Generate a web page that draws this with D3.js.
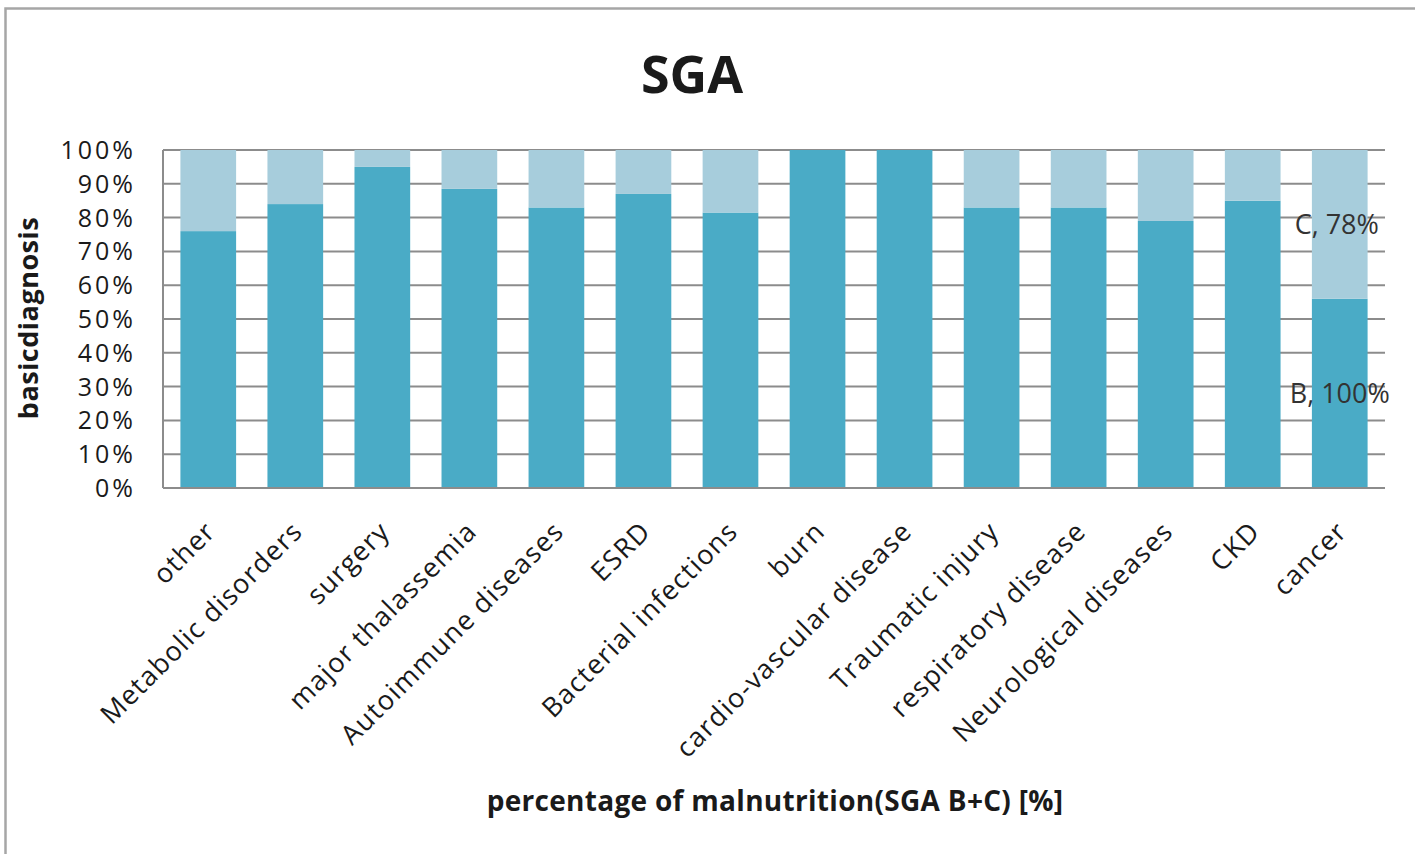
<html>
   <head>
      <title>SGA</title>
      <script src="https://d3js.org/d3.v7.min.js" charset="utf-8"></script>
      <style>
         body {
            margin: 0;
            background: white;
            font-family: "Open Sans", sans-serif;
         }
         text {
            fill: #1a1a1a;
         }
      </style>
   </head>
   <body>
      <script>
         var width = 1415;
         var height = 854;

         // categories and stacked values (percent of patients)
         var categories = ["other", "Metabolic disorders", "surgery", "major thalassemia",
            "Autoimmune diseases", "ESRD", "Bacterial infections", "burn",
            "cardio-vascular disease", "Traumatic injury", "respiratory disease",
            "Neurological diseases", "CKD", "cancer"];
         var bValues = [76, 84, 95, 88.5, 83, 87, 81.5, 100, 100, 83, 83, 79, 85, 56];
         var cValues = [24, 16, 5, 11.5, 17, 13, 18.5, 0, 0, 17, 17, 21, 15, 44];
         var yTicks = [0, 10, 20, 30, 40, 50, 60, 70, 80, 90, 100];

         var darkColor = "#4aabc6";
         var lightColor = "#a7cddc";

         var rows = categories.map(function(c, i) {
            return {cat: c, B: bValues[i], C: cValues[i]};
         });
         var stack = d3.stack().keys(["B", "C"]);
         var series = stack(rows);

         var svg = d3.select("body")
            .append("svg")
            .attr("width", width)
            .attr("height", height);

         // outer chart border
         svg.append("rect")
            .attr("x", 5.5)
            .attr("y", 8.5)
            .attr("width", width + 20)
            .attr("height", height + 20)
            .attr("fill", "white")
            .attr("stroke", "#a6a6a6")
            .attr("stroke-width", 2.5);

         var x = d3.scaleBand()
            .domain(categories)
            .range([163, 1385])
            .paddingInner(0.36)
            .paddingOuter(0.2);

         var y = d3.scaleLinear()
            .domain([0, 100])
            .range([488, 150]);

         // gridlines
         svg.append("g")
            .selectAll("line")
            .data(yTicks)
            .enter()
            .append("line")
            .attr("x1", 163)
            .attr("x2", 1385)
            .attr("y1", function(d){ return y(d); })
            .attr("y2", function(d){ return y(d); })
            .attr("stroke", "#8c8c8c")
            .attr("stroke-width", 2);

         // left axis line
         svg.append("line")
            .attr("x1", 163).attr("x2", 163)
            .attr("y1", y(100)).attr("y2", y(0))
            .attr("stroke", "#8c8c8c")
            .attr("stroke-width", 2);

         // bars
         svg.append("g")
            .selectAll("g")
            .data(series)
            .enter()
            .append("g")
            .attr("fill", function(d){ return d.key == "B" ? darkColor : lightColor; })
            .selectAll("rect")
            .data(function(d){ return d; })
            .enter()
            .append("rect")
            .attr("x", function(d){ return x(d.data.cat); })
            .attr("y", function(d){ return y(d[1]); })
            .attr("width", x.bandwidth())
            .attr("height", function(d){ return y(d[0]) - y(d[1]); });

         // bottom axis line
         svg.append("line")
            .attr("x1", 163).attr("x2", 1385)
            .attr("y1", y(0)).attr("y2", y(0))
            .attr("stroke", "#8c8c8c")
            .attr("stroke-width", 2);

         // y tick labels
         svg.append("g")
            .selectAll("text")
            .data(yTicks)
            .enter()
            .append("text")
            .attr("x", 136)
            .attr("y", function(d){ return y(d); })
            .attr("dy", "0.36em")
            .attr("text-anchor", "end")
            .style("font-size", "25px")
            .style("letter-spacing", "3px")
            .text(function(d){ return d + "%"; });

         // x category labels
         svg.append("g")
            .selectAll("text")
            .data(categories)
            .enter()
            .append("text")
            .attr("transform", function(d){
               return "translate(" + (x(d) + x.bandwidth() / 2 + 9) + "," + (y(0) + 45) + ") rotate(-45)";
            })
            .attr("text-anchor", "end")
            .style("font-size", "27px")
            .style("letter-spacing", "1.2px")
            .text(function(d){ return d; });

         // data labels on the last bar
         var last = categories[categories.length - 1];
         svg.append("text")
            .attr("x", x(last) + x.bandwidth() / 2 - 3)
            .attr("y", y(bValues[13] + cValues[13] / 2))
            .attr("dy", "0.36em")
            .attr("text-anchor", "middle")
            .style("font-size", "27px")
            .style("fill", "#333")
            .text("C, 78%");
         svg.append("text")
            .attr("x", x(last) + x.bandwidth() / 2)
            .attr("y", y(bValues[13] / 2))
            .attr("dy", "0.36em")
            .attr("text-anchor", "middle")
            .style("font-size", "27px")
            .style("fill", "#333")
            .text("B, 100%");

         // title
         svg.append("text")
            .attr("x", 692)
            .attr("y", 93)
            .attr("text-anchor", "middle")
            .style("font-size", "52px")
            .style("font-weight", "bold")
            .text("SGA");

         // axis titles
         svg.append("text")
            .attr("transform", "translate(38,318) rotate(-90)")
            .attr("text-anchor", "middle")
            .style("font-size", "27px")
            .style("font-weight", "bold")
            .style("letter-spacing", "0.5px")
            .text("basicdiagnosis");

         svg.append("text")
            .attr("x", 775)
            .attr("y", 811)
            .attr("text-anchor", "middle")
            .style("font-size", "28px")
            .style("font-weight", "bold")
            .style("letter-spacing", "0.3px")
            .text("percentage of malnutrition(SGA B+C) [%]");
      </script>
   </body>
</html>
